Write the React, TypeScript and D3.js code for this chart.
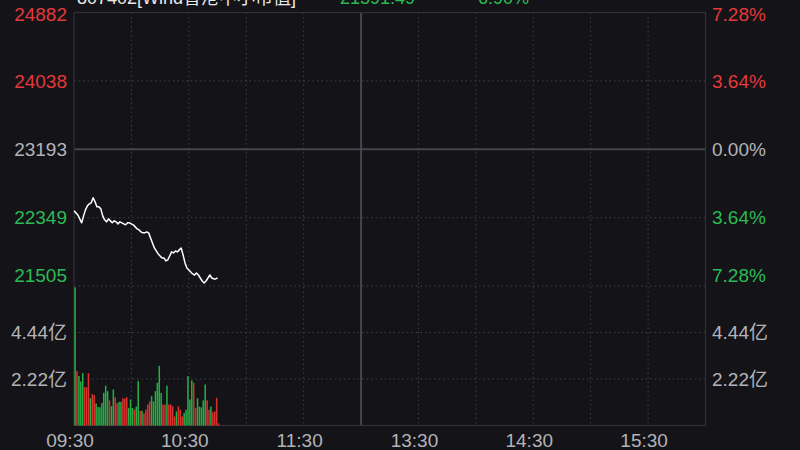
import { useEffect, useRef } from 'react';
import * as d3 from 'd3';

// 分时数据 (09:30 起, 每分钟一个点)
const prices = [
  22433, 22408, 22383, 22334, 22285, 22371, 22445, 22495, 22519, 22532,
  22594, 22544, 22482, 22482, 22458, 22371, 22322, 22297, 22334, 22309,
  22285, 22309, 22297, 22272, 22297, 22285, 22272, 22260, 22285, 22285,
  22272, 22260, 22235, 22210, 22198, 22173, 22161, 22161, 22173, 22161,
  22099, 22037, 21975, 21938, 21901, 21876, 21852, 21852, 21815, 21827,
  21876, 21926, 21913, 21938, 21926, 21951, 21975, 21889, 21790, 21728,
  21703, 21678, 21654, 21641, 21666, 21641, 21604, 21567, 21542, 21567,
  21604, 21641, 21604, 21592, 21592, 21604,
];

// 成交额 (亿)
const volumes = [
  6.6, 2.6, 2.36, 2.1, 2.5, 1.83, 1.83, 2.5, 1.3, 1.5,
  1.45, 1.05, 0.88, 0.87, 1.08, 1.56, 1.9, 1.64, 1.2, 0.92,
  1.72, 1.35, 1.07, 1.13, 1.13, 1.3, 1.29, 1.35, 0.84, 1.24,
  0.84, 0.76, 0.9, 2.12, 0.7, 0.7, 0.58, 0.76, 1.0, 1.15,
  1.4, 1.15, 1.64, 2.04, 2.85, 1.55, 1.0, 1.0, 1.9, 1.0,
  1.0, 0.92, 0.43, 0.67, 0.92, 0.75, 0.43, 0.6, 0.75, 2.36,
  1.24, 2.15, 2.04, 0.84, 1.3, 0.9, 0.87, 1.2, 1.96, 1.2,
  0.75, 0.9, 0.64, 0.67, 1.32, 0.1,
];

// 1 = 涨 (绿), 0 = 跌 (红)
const volumeUp = [
  1, 0, 1, 1, 1, 0, 0, 0, 1, 0,
  0, 1, 1, 1, 1, 1, 1, 1, 0, 1,
  1, 0, 0, 1, 1, 0, 0, 0, 1, 1,
  1, 0, 1, 1, 0, 1, 0, 0, 0, 0,
  1, 1, 1, 1, 1, 1, 0, 0, 1, 0,
  0, 0, 0, 1, 0, 0, 0, 1, 1, 1,
  1, 1, 0, 0, 1, 1, 1, 1, 1, 0,
  0, 1, 0, 0, 0, 0,
];

const priceTicks = [24882, 24038, 23193, 22349, 21505];
const pctLabels = ['7.28%', '3.64%', '0.00%', '3.64%', '7.28%'];
const volumeTicks = [4.44, 2.22];
const volumeLabels = ['4.44亿', '2.22亿'];
const timeTicks = [0, 60, 120, 180, 240, 300];
const timeLabels = ['09:30', '10:30', '11:30', '13:30', '14:30', '15:30'];

const title = '807402[Wind香港中小市值]';
const lastPrice = '21591.49';
const lastPct = '-6.90%';

const BG = '#131318';
const RED = '#e5383b';
const GREEN = '#2bbb55';
const BAR_RED = '#d8322f';
const BAR_GREEN = '#27ad45';
const GRAY = '#b4b4b8';
const FONT = "'Liberation Sans', Arial, 'Noto Sans CJK SC', sans-serif";
const SIZE = '19px';

export default function App() {
  const svgRef = useRef<SVGSVGElement>(null);

  useEffect(() => {
    if (!svgRef.current) return;
    const svg = d3.select(svgRef.current);
    svg.selectAll('*').remove();

    const width = 800;
    const height = 450;
    const left = 74;
    const right = 705.5;
    const top = 12.5;
    const priceBottom = 286;
    const volBottom = 425.5;

    svg.attr('width', width).attr('height', height);
    svg.append('rect').attr('width', width).attr('height', height).attr('fill', BG);

    const x = d3.scaleLinear().domain([0, 330]).range([left, right]);
    const base = priceTicks[2];
    const y = d3.scaleLinear().domain([priceTicks[4], priceTicks[0]]).range([priceBottom, top]);
    const yv = d3.scaleLinear().domain([0, 6.66]).range([volBottom, priceBottom]);

    // 网格
    const grid = svg.append('g');
    const vGrid = d3.range(30, 330, 30);
    grid.selectAll('.vg')
      .data(vGrid)
      .enter()
      .append('line')
      .attr('x1', d => x(d)).attr('x2', d => x(d))
      .attr('y1', top).attr('y2', volBottom)
      .attr('stroke', d => (d === 150 ? '#46464c' : '#404046'))
      .attr('stroke-width', d => (d === 150 ? 2 : 1))
      .attr('stroke-dasharray', d => (d === 150 ? null : '1.5,3'));

    const hLines = [
      ...priceTicks.slice(1).map(v => y(v)),
      ...volumeTicks.map(v => yv(v)),
    ];
    grid.selectAll('.hg')
      .data(hLines)
      .enter()
      .append('line')
      .attr('x1', left).attr('x2', right)
      .attr('y1', d => d).attr('y2', d => d)
      .attr('stroke', (d, i) => (i === 1 ? '#46464c' : '#404046'))
      .attr('stroke-width', (d, i) => (i === 1 ? 2 : 1))
      .attr('stroke-dasharray', (d, i) => (i === 1 ? null : '1.5,3'));

    // 边框
    svg.append('rect')
      .attr('x', left).attr('y', top)
      .attr('width', right - left).attr('height', volBottom - top)
      .attr('fill', 'none')
      .attr('stroke', '#303036')
      .attr('stroke-width', 1.2);

    // 成交量柱
    const step = x(1) - x(0);
    svg.append('g')
      .selectAll('rect')
      .data(volumes)
      .enter()
      .append('rect')
      .attr('x', (d, i) => x(i) + 0.3)
      .attr('y', d => yv(d))
      .attr('width', step * 0.8)
      .attr('height', d => volBottom - yv(d))
      .attr('fill', (d, i) => (volumeUp[i] ? BAR_GREEN : BAR_RED));

    // 分时线
    const line = d3.line<number>()
      .x((d, i) => x(i))
      .y(d => y(d));
    svg.append('path')
      .datum(prices)
      .attr('d', line)
      .attr('fill', 'none')
      .attr('stroke', '#ffffff')
      .attr('stroke-width', 1.5)
      .attr('stroke-linejoin', 'round');

    const colorFor = (v: number) => (v > base ? RED : v < base ? GREEN : GRAY);
    const labelY = (v: number, i: number) =>
      i === 0 ? y(v) + 1.5 : i === priceTicks.length - 1 ? y(v) - 11 : y(v);

    // 左轴
    svg.append('g')
      .selectAll('text')
      .data(priceTicks)
      .enter()
      .append('text')
      .attr('x', 67)
      .attr('y', (d, i) => labelY(d, i))
      .attr('dy', '0.36em')
      .attr('text-anchor', 'end')
      .attr('fill', d => colorFor(d))
      .attr('font-size', SIZE)
      .attr('font-family', FONT)
      .text(d => d);

    // 右轴
    svg.append('g')
      .selectAll('text')
      .data(priceTicks)
      .enter()
      .append('text')
      .attr('x', 712)
      .attr('y', (d, i) => labelY(d, i))
      .attr('dy', '0.36em')
      .attr('fill', d => colorFor(d))
      .attr('font-size', SIZE)
      .attr('font-family', FONT)
      .text((d, i) => pctLabels[i]);

    // 成交量轴
    volumeTicks.forEach((v, i) => {
      svg.append('text')
        .attr('x', 67).attr('y', yv(v)).attr('dy', '0.36em')
        .attr('text-anchor', 'end')
        .attr('fill', GRAY).attr('font-size', SIZE).attr('font-family', FONT)
        .text(volumeLabels[i]);
      svg.append('text')
        .attr('x', 712).attr('y', yv(v)).attr('dy', '0.36em')
        .attr('fill', GRAY).attr('font-size', SIZE).attr('font-family', FONT)
        .text(volumeLabels[i]);
    });

    // 时间轴
    svg.append('g')
      .selectAll('text')
      .data(timeTicks)
      .enter()
      .append('text')
      .attr('x', d => x(d) - 4)
      .attr('y', 447)
      .attr('text-anchor', 'middle')
      .attr('fill', GRAY)
      .attr('font-size', SIZE)
      .attr('font-family', FONT)
      .text((d, i) => timeLabels[i]);

    // 标题 (顶部被截断, 与原图一致)
    svg.append('text')
      .attr('x', 77).attr('y', 4)
      .attr('fill', '#e8e8e8').attr('font-size', '18px').attr('font-family', FONT)
      .text(title);
    svg.append('text')
      .attr('x', 340).attr('y', 4)
      .attr('fill', GREEN).attr('font-size', '18px').attr('font-family', FONT)
      .text(lastPrice);
    svg.append('text')
      .attr('x', 472).attr('y', 4)
      .attr('fill', GREEN).attr('font-size', '18px').attr('font-family', FONT)
      .text(lastPct);
  }, []);

  return (
    <div style={{ position: 'fixed', left: 0, top: 0, width: 800, height: 450, background: BG }}>
      <svg ref={svgRef} style={{ display: 'block' }}></svg>
    </div>
  );
}
